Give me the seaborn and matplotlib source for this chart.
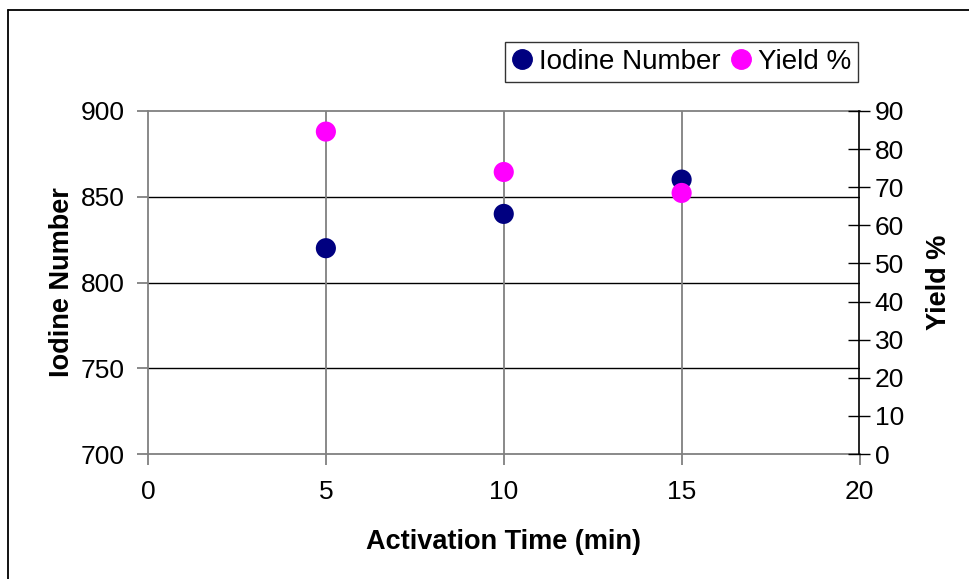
import matplotlib
matplotlib.use("Agg")
import matplotlib.pyplot as plt
from matplotlib.lines import Line2D
import seaborn as sns
import pandas as pd

# Activation time series
activation_time = [5, 10, 15]
iodine_number = [820, 840, 860]
yield_pct = [84.6, 74.0, 68.5]

x_ticks = [0, 5, 10, 15, 20]
iodine_ticks = [700, 750, 800, 850, 900]
yield_ticks = [0, 10, 20, 30, 40, 50, 60, 70, 80, 90]

NAVY = "#000080"
MAGENTA = "#FF00FF"
TICK_FS = 19
LABEL_FS = 19.5
LEGEND_FS = 20

sns.set_style("white")
plt.rcParams["font.family"] = ["Liberation Sans", "DejaVu Sans"]
plt.rcParams["text.color"] = "black"
plt.rcParams["axes.labelcolor"] = "black"

df = pd.DataFrame({"time": activation_time, "iodine": iodine_number, "yield": yield_pct})

fig = plt.figure(figsize=(9.69, 5.79), dpi=100)
ax = fig.add_axes([148 / 969, 1 - 454 / 579, (859.5 - 148) / 969, (454 - 111) / 579])
ax2 = ax.twinx()

# Horizontal gridlines (left axis) and vertical gridlines (x axis)
ax.set_axisbelow(True)
for v in iodine_ticks[1:-1]:
    ax.axhline(v, color="black", lw=1.0, zorder=0)
for v in x_ticks[1:-1]:
    ax.axvline(v, color="#808080", lw=1.3, zorder=0)

sns.scatterplot(data=df, x="time", y="iodine", ax=ax, color=NAVY, s=210,
                edgecolor="none", zorder=3, legend=False)
sns.scatterplot(data=df, x="time", y="yield", ax=ax2, color=MAGENTA, s=210,
                edgecolor="none", zorder=3, legend=False)

ax.set_xlim(0, 20)
ax.set_ylim(700, 900)
ax2.set_ylim(0, 90)
ax.set_xticks(x_ticks)
ax.set_yticks(iodine_ticks)
ax2.set_yticks(yield_ticks)

for a in (ax, ax2):
    for s in a.spines.values():
        s.set_visible(False)
for side in ("left", "bottom", "top"):
    ax.spines[side].set_visible(True)
    ax.spines[side].set_color("#808080")
    ax.spines[side].set_linewidth(1.3)
ax2.spines["right"].set_visible(True)
ax2.spines["right"].set_color("black")
ax2.spines["right"].set_linewidth(1.2)

ax.tick_params(axis="both", direction="out", length=8, width=1.3, color="#808080",
               labelsize=TICK_FS, labelcolor="black")
ax.tick_params(axis="y", left=True, pad=9)
ax.tick_params(axis="x", bottom=True, pad=11)
ax2.tick_params(axis="y", direction="inout", length=16, width=1.0, color="black",
                labelsize=TICK_FS, labelcolor="black", pad=3, right=True)

ax.set_xlabel("Activation Time (min)", fontsize=LABEL_FS, fontweight="bold", labelpad=18)
ax.set_ylabel("Iodine Number", fontsize=LABEL_FS, fontweight="bold", labelpad=4)
ax2.set_ylabel("Yield %", fontsize=LABEL_FS, fontweight="bold", labelpad=16)

handles = [
    Line2D([0], [0], marker="o", ls="none", color=NAVY, markersize=14, label="Iodine Number"),
    Line2D([0], [0], marker="o", ls="none", color=MAGENTA, markersize=14, label="Yield %"),
]
leg = fig.legend(handles=handles, loc="upper right", bbox_to_anchor=(858 / 969, 1 - 42 / 579),
                 ncol=2, frameon=True, fancybox=False, fontsize=LEGEND_FS,
                 handletextpad=0.25, columnspacing=0.4, borderpad=0.25,
                 handlelength=0.7, borderaxespad=0)
leg.get_frame().set_edgecolor("black")
leg.get_frame().set_linewidth(1.0)

# Chart area border: left and top edges (the rest runs past the canvas)
fig.add_artist(Line2D([8 / 969, 8 / 969], [0, 1 - 10 / 579], transform=fig.transFigure,
                      color="black", lw=1.3))
fig.add_artist(Line2D([8 / 969, 1], [1 - 10 / 579, 1 - 10 / 579], transform=fig.transFigure,
                      color="black", lw=1.3))

fig.savefig("out.png", dpi=100)
